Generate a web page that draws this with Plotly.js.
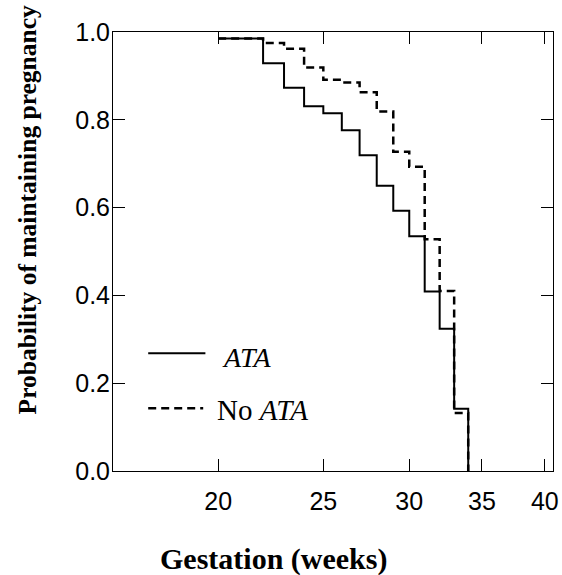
<!DOCTYPE html>
<html>
<head>
<meta charset="utf-8">
<script src="https://cdn.plot.ly/plotly-3.0.1.min.js"></script>
<style>
  html, body { margin: 0; padding: 0; background: #fff; }
  #chart { width: 562px; height: 575px; }
</style>
</head>
<body>
<div id="chart"></div>
<script>
// Gestational week at which each step occurs
const weeksATA   = [20, 22, 23, 24, 25, 26, 27, 28, 29, 30, 31, 32, 33, 34];
const survATA    = [0.985, 0.929, 0.873, 0.831, 0.815, 0.776, 0.719, 0.650, 0.593, 0.535, 0.409, 0.324, 0.142, 0.0];
const weeksNoATA = [20, 22, 23, 24, 25, 26, 27, 28, 29, 30, 31, 32, 33, 34];
const survNoATA  = [0.985, 0.975, 0.962, 0.919, 0.891, 0.885, 0.863, 0.819, 0.727, 0.693, 0.528, 0.410, 0.132, 0.0];

const xTickVals = [20, 25, 30, 35, 40];
const xTickText = ["20", "25", "30", "35", "40"];
const yTickVals = [0, 0.2, 0.4, 0.6, 0.8, 1.0];
const yTickText = ["0.0", "0.2", "0.4", "0.6", "0.8", "1.0"];

const seriesNames = ["<i>ATA</i>", "No <i>ATA</i>"];

const traces = [
  {
    x: weeksATA, y: survATA, type: "scatter", mode: "lines",
    line: { shape: "hv", color: "#000", width: 2 },
    name: seriesNames[0], showlegend: false, hoverinfo: "skip"
  },
  {
    x: weeksNoATA, y: survNoATA, type: "scatter", mode: "lines",
    line: { shape: "hv", color: "#000", width: 2.5, dash: "8px,5px" },
    name: seriesNames[1], showlegend: false, hoverinfo: "skip"
  }
];

const serif = "'Liberation Serif', 'Times New Roman', serif";
const sans = "'Liberation Sans', Arial, sans-serif";

const layout = {
  width: 562, height: 575,
  margin: { l: 113, r: 9, t: 31.5, b: 103.5 },
  paper_bgcolor: "#fff", plot_bgcolor: "#fff",
  showlegend: false,
  xaxis: {
    type: "log",
    range: [Math.log10(16), Math.log10(40.7)],
    tickvals: xTickVals, ticktext: xTickText,
    ticks: "inside", ticklen: 12, tickwidth: 1, tickcolor: "#000",
    showline: true, linecolor: "#000", linewidth: 1, mirror: "allticks",
    showgrid: false, zeroline: false,
    tickfont: { family: sans, size: 25, color: "#000" },
    ticklabelstandoff: 8
  },
  yaxis: {
    range: [0, 1],
    tickvals: yTickVals, ticktext: yTickText,
    ticks: "inside", ticklen: 12, tickwidth: 1, tickcolor: "#000",
    showline: true, linecolor: "#000", linewidth: 1, mirror: "allticks",
    showgrid: false, zeroline: false,
    tickfont: { family: sans, size: 25, color: "#000" },
    ticklabelstandoff: -3
  },
  shapes: [
    { type: "line", xref: "paper", yref: "paper", x0: 0.08, x1: 0.21, y0: 0.268, y1: 0.268,
      line: { color: "#000", width: 2 } },
    { type: "line", xref: "paper", yref: "paper", x0: 0.08, x1: 0.205, y0: 0.143, y1: 0.143,
      line: { color: "#000", width: 2.5, dash: "8px,5px" } }
  ],
  annotations: [
    { text: seriesNames[0], xref: "paper", yref: "paper", x: 0.243, y: 0.258,
      xanchor: "left", yanchor: "middle", showarrow: false,
      font: { family: serif, size: 28, color: "#000" } },
    { text: seriesNames[1], xref: "paper", yref: "paper", x: 0.232, y: 0.14,
      xanchor: "left", yanchor: "middle", showarrow: false,
      font: { family: serif, size: 29, color: "#000" } },
    { text: "<b>Probability of maintaining pregnancy</b>", xref: "paper", yref: "paper",
      x: -0.195, y: 0.594, xanchor: "center", yanchor: "middle", textangle: -90,
      showarrow: false, font: { family: serif, size: 25.5, color: "#000" } },
    { text: "<b>Gestation (weeks)</b>", xref: "paper", yref: "paper",
      x: 0.364, y: -0.2, xanchor: "center", yanchor: "middle",
      showarrow: false, font: { family: serif, size: 30, color: "#000" } }
  ]
};

Plotly.newPlot("chart", traces, layout, { displayModeBar: false, staticPlot: true });
</script>
</body>
</html>
